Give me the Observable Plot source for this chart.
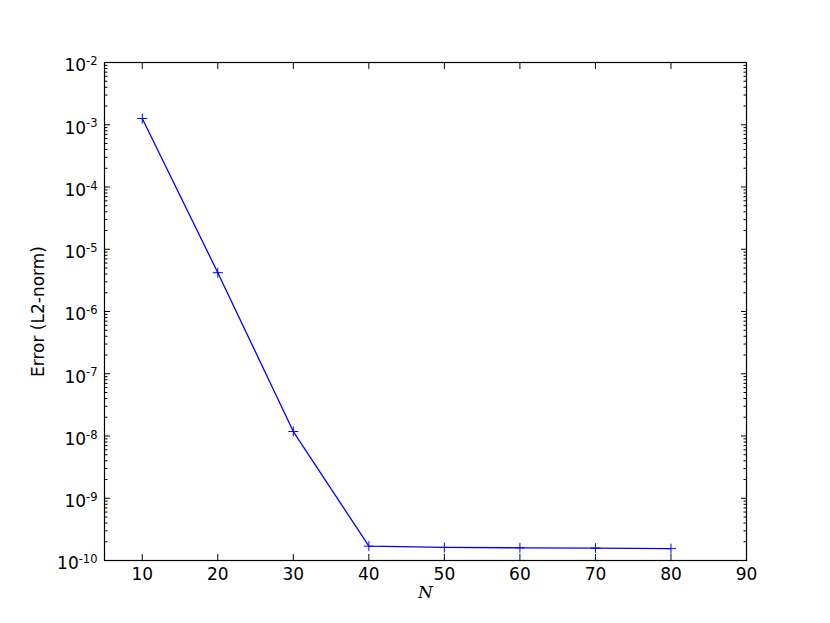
<!DOCTYPE html>
<html>
<head>
<meta charset="utf-8">
<script src="https://cdn.jsdelivr.net/npm/d3@7"></script>
<script src="https://cdn.jsdelivr.net/npm/@observablehq/plot@0.6"></script>
<style>
  html, body { margin: 0; padding: 0; background: #fff; }
  #chart { width: 830px; height: 623px; }
</style>
</head>
<body>
<div id="chart"></div>
<script>
// Data
const N = [10, 20, 30, 40, 50, 60, 70, 80];
const errorL2 = [1.26e-3, 4.2e-6, 1.18e-8, 1.70e-10, 1.62e-10, 1.60e-10, 1.58e-10, 1.55e-10];

// Tick definitions
const xTicks = [10, 20, 30, 40, 50, 60, 70, 80, 90];
const yExponents = [-10, -9, -8, -7, -6, -5, -4, -3, -2];
const yMajor = yExponents.map(e => Math.pow(10, e));
const yMinor = yExponents.slice(0, -1).flatMap(e => [2,3,4,5,6,7,8,9].map(m => m * Math.pow(10, e)));

const rows = N.map((n, i) => ({N: n, err: errorL2[i]}));

const thinPlus = {
  draw(ctx, size) {
    const h = Math.sqrt(size / Math.PI);
    ctx.moveTo(-h, 0); ctx.lineTo(h, 0);
    ctx.moveTo(0, -h); ctx.lineTo(0, h);
  }
};

const blue = "#0000ff";

const plot = Plot.plot({
  width: 830,
  height: 623,
  marginLeft: 104,
  marginRight: 84,
  marginTop: 62,
  marginBottom: 63,
  style: {fontFamily: "DejaVu Sans, sans-serif", fontSize: "17px", background: "#fff", color: "#000"},
  x: {domain: [5, 90]},
  y: {type: "log", domain: [1e-10, 1e-2]},
  marks: [
    // x tick labels
    Plot.axisX({anchor: "bottom", ticks: xTicks, tickSize: 0, tickPadding: 7, tickFormat: d => String(d), label: null, fontSize: 17}),
    // y tick labels
    Plot.axisY({anchor: "left", ticks: yMajor, tickSize: 0, tickPadding: 7, dy: 3.5,
      tickFormat: d => String(yExponents[yMajor.indexOf(d)]), label: null, fontSize: 17}),
    // inward ticks, all four sides
    Plot.axisX({anchor: "bottom", ticks: xTicks, tickSize: -6, tickFormat: () => "", label: null}),
    Plot.axisX({anchor: "top", ticks: xTicks, tickSize: -6, tickFormat: () => "", label: null}),
    Plot.axisY({anchor: "left", ticks: yMajor, tickSize: -6, tickFormat: () => "", label: null}),
    Plot.axisY({anchor: "right", ticks: yMajor, tickSize: -6, tickFormat: () => "", label: null}),
    Plot.axisY({anchor: "left", ticks: yMinor, tickSize: -3.5, tickFormat: () => "", label: null}),
    Plot.axisY({anchor: "right", ticks: yMinor, tickSize: -3.5, tickFormat: () => "", label: null}),
    Plot.frame({stroke: "#000", strokeWidth: 1.2}),
    // data
    Plot.line(rows, {x: "N", y: "err", stroke: blue, strokeWidth: 1.3}),
    Plot.dot(rows, {x: "N", y: "err", symbol: thinPlus, r: 5, stroke: blue, strokeWidth: 1, fill: "none"}),
    // axis titles
    Plot.text(["Error (L2-norm)"], {frameAnchor: "left", dx: -66, rotate: -90, text: d => d,
      textAnchor: "middle", lineAnchor: "middle", fontSize: 17, fill: "#000"}),
    Plot.text(["N"], {frameAnchor: "bottom", dy: 32.5, text: d => d, textAnchor: "middle",
      lineAnchor: "middle", fontSize: 17, fontStyle: "italic", fontFamily: "DejaVu Serif, serif", fill: "#000"})
  ]
});

document.getElementById("chart").appendChild(plot);

// Render y tick labels as 10 with superscript exponent
d3.select(plot).selectAll('g[aria-label="y-axis tick label"] text').each(function() {
  const t = d3.select(this);
  const exp = t.text();
  if (exp === "") return;
  t.text("");
  t.append("tspan").text("10");
  t.append("tspan").attr("dy", "-0.55em").attr("font-size", "11.5px").text(exp);
});
</script>
</body>
</html>
